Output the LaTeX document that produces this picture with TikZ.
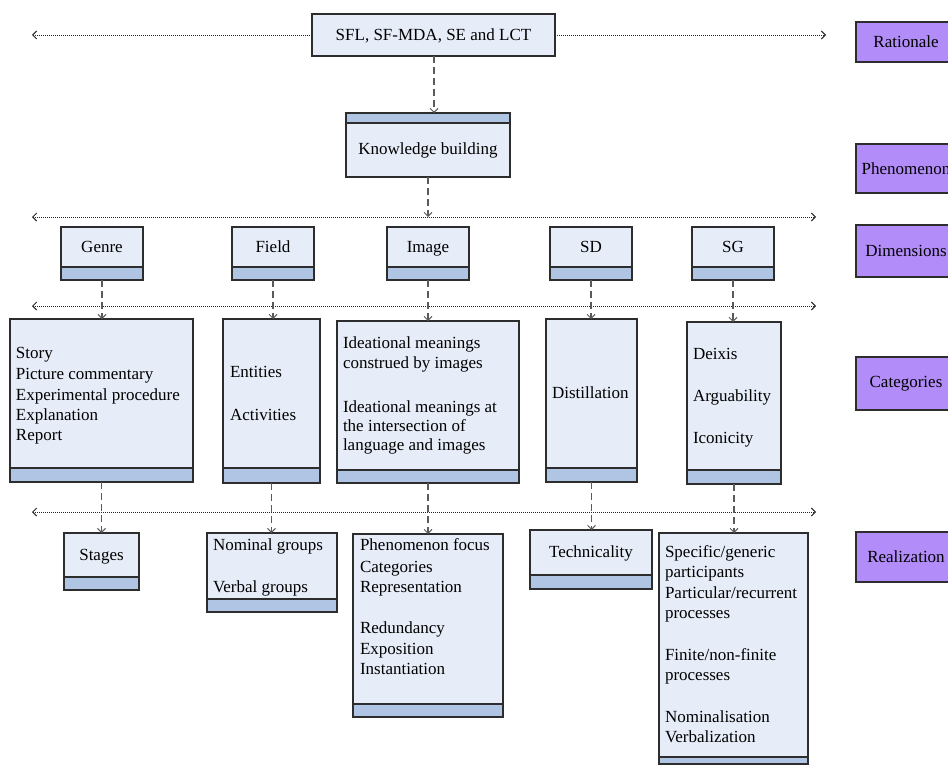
\documentclass[tikz,border=0pt]{standalone}
\usepackage{fontspec}
\setmainfont{Liberation Serif}
\usetikzlibrary{arrows.meta}
\definecolor{boxc}{RGB}{231,237,248}
\definecolor{bandc}{RGB}{176,197,228}
\definecolor{purp}{RGB}{178,140,248}
\definecolor{bordc}{RGB}{45,45,45}
\definecolor{linec}{RGB}{90,90,90}
\newcommand\mkbox[6]{%
  \node[#1, minimum width={#5-#3}, minimum height={#6-#4}] (#2) at ({(#3+#5)/2},{(#4+#6)/2}) {};}
\newcommand\bandb[2]{%
  \fill[bandc] (#1.south west) rectangle (#1.east |- 0,#2);
  \draw[bordc, line width=1.1pt] (#1.west |- 0,#2) -- (#1.east |- 0,#2);
  \draw[bordc, line width=1.1pt] (#1.south west) rectangle (#1.north east);}
\begin{document}
\begin{tikzpicture}[x=1pt,y=-1pt,
  txt/.style={inner sep=0, outer sep=0, font=\fontsize{17}{20}\selectfont, text=black},
  tl/.style={txt, anchor=base west},
  tc/.style={txt, anchor=base},
  bx/.style={draw=bordc, line width=1.1pt, fill=boxc, inner sep=0, outer sep=0},
  pbx/.style={draw=bordc, line width=1.1pt, fill=purp, inner sep=0, outer sep=0,
    minimum width=100, font=\fontsize{17}{20}\selectfont},
  barb/.tip={Straight Barb[length=4pt,width=8pt,line width=0.9pt]},
  dasharr/.style={draw=linec, line width=1.2pt, dash pattern=on 7pt off 4pt, -barb},
  dotl/.style={draw=black!85, line width=0.8pt, dash pattern=on 1pt off 1pt}]
\useasboundingbox (0,0) rectangle (948,765);
\clip (0,0) rectangle (948,765);

% ---------- boxes ----------
\mkbox{bx}{sfl}{312}{14}{555}{56}
\draw[bordc, line width=2.6pt] (sfl.north west) -- (sfl.north east);
\mkbox{bx}{kb}{346}{113}{510}{177}
\fill[bandc] (kb.north west) rectangle (kb.east |- 0,123);
\draw[bordc, line width=1.1pt] (kb.west |- 0,123) -- (kb.east |- 0,123);
\draw[bordc, line width=1.1pt] (kb.south west) rectangle (kb.north east);

% dimensions
\mkbox{bx}{genD}{61}{227}{143}{280}\bandb{genD}{267}
\mkbox{bx}{fldD}{232}{227}{314}{280}\bandb{fldD}{267}
\mkbox{bx}{imgD}{387}{227}{469}{280}\bandb{imgD}{267}
\mkbox{bx}{sdD}{550}{227}{632}{280}\bandb{sdD}{267}
\mkbox{bx}{sgD}{692}{227}{774}{280}\bandb{sgD}{267}

% categories
\mkbox{bx}{genC}{10}{319}{193}{482}\bandb{genC}{468}
\mkbox{bx}{fldC}{223}{319}{320}{483}\bandb{fldC}{468}
\mkbox{bx}{imgC}{337}{321}{519}{483}\bandb{imgC}{470}
\mkbox{bx}{sdC}{546}{319}{637}{482}\bandb{sdC}{468}
\mkbox{bx}{sgC}{687}{322}{781}{484}\bandb{sgC}{470}

% realization
\mkbox{bx}{stgR}{64}{533}{139}{590}\bandb{stgR}{577}
\mkbox{bx}{nomR}{207}{533}{337}{612}\bandb{nomR}{599}
\mkbox{bx}{imgR}{353}{534}{503}{717}\bandb{imgR}{704}
\mkbox{bx}{tecR}{530}{530}{652}{589}\bandb{tecR}{575}
\mkbox{bx}{sgR}{659}{533}{808}{764}\bandb{sgR}{757}

% purple labels
\node[pbx, minimum height=40] (pRat) at (906,42) {Rationale};
\node[pbx, minimum height=49] (pPhe) at (906,168.5) {Phenomenon};
\node[pbx, minimum height=52] (pDim) at (906,251) {Dimensions};
\node[pbx, minimum height=53] (pCat) at (906,383.5) {Categories};
\node[pbx, minimum height=50] (pRea) at (906,557) {Realization};

% ---------- dotted lines ----------
\coordinate (l0L) at (32,35);  \coordinate (l0R) at (826,35);
\coordinate (l1L) at (32,217); \coordinate (l1R) at (816,217);
\coordinate (l2L) at (32,306); \coordinate (l2R) at (816,306);
\coordinate (l3L) at (32,512); \coordinate (l3R) at (816,512);
\draw[dotl, -barb] (sfl.west |- l0L) -- (l0L);
\draw[dotl, -barb] (sfl.east |- l0R) -- (l0R);
\draw[dotl, barb-barb] (l1L) -- (l1R);
\draw[dotl, barb-barb] (l2L) -- (l2R);
\draw[dotl, barb-barb] (l3L) -- (l3R);

% ---------- dashed arrows ----------
\draw[dasharr] ([xshift=0.5pt]sfl.south) -- ([xshift=0.5pt]sfl.south |- kb.north);
\draw[dasharr] (kb.south) -- (kb.south |- l1L);
\foreach \a/\b in {genD/genC, fldD/fldC, imgD/imgC, sdD/sdC, sgD/sgC,
                   genC/stgR, fldC/nomR, imgC/imgR, sdC/tecR, sgC/sgR}
  \draw[dasharr] (\a.south) -- (\a.south |- \b.north);

% ---------- texts ----------
\node[tc] (tSfl) at (433.5,41) {SFL, SF-MDA, SE and LCT};
\node[tc] (tKb) at (428,155) {Knowledge building};
\node[tc] (tGen) at (102,252) {Genre};
\node[tc] (tFld) at (273,252) {Field};
\node[tc] (tImg) at (428,252) {Image};
\node[tc] (tSd) at (591,252) {SD};
\node[tc] (tSg) at (733,252) {SG};

\node[tl] (g1) at (16,358) {Story};
\node[tl] (g2) at (16,379) {Picture commentary};
\node[tl] (g3) at (16,400) {Experimental procedure};
\node[tl] (g4) at (16,420) {Explanation};
\node[tl] (g5) at (16,440) {Report};

\node[tl] (f1) at (230,377) {Entities};
\node[tl] (f2) at (230,420) {Activities};

\node[tl] (i1) at (343,348) {Ideational meanings};
\node[tl] (i2) at (343,368) {construed by images};
\node[tl] (i3) at (343,412) {Ideational meanings at};
\node[tl] (i4) at (343,431) {the intersection of};
\node[tl] (i5) at (343,450) {language and images};

\node[tl] (s1) at (552,398) {Distillation};

\node[tl] (q1) at (693,359) {Deixis};
\node[tl] (q2) at (693,401) {Arguability};
\node[tl] (q3) at (693,443) {Iconicity};

\node[tc] (r1) at (101.5,560) {Stages};
\node[tl] (n1) at (213,550) {Nominal groups};
\node[tl] (n2) at (213,592) {Verbal groups};

\node[tl] (m1) at (360,550) {Phenomenon focus};
\node[tl] (m2) at (360,572) {Categories};
\node[tl] (m3) at (360,592) {Representation};
\node[tl] (m4) at (360,633) {Redundancy};
\node[tl] (m5) at (360,654) {Exposition};
\node[tl] (m6) at (360,674) {Instantiation};

\node[tc] (t1) at (591,557) {Technicality};

\node[tl] (p1) at (665,557) {Specific/generic};
\node[tl] (p2) at (665,577) {participants};
\node[tl] (p3) at (665,598) {Particular/recurrent};
\node[tl] (p4) at (665,618) {processes};
\node[tl] (p5) at (665,660) {Finite/non-finite};
\node[tl] (p6) at (665,680) {processes};
\node[tl] (p7) at (665,722) {Nominalisation};
\node[tl] (p8) at (665,742) {Verbalization};
\end{tikzpicture}
\end{document}
